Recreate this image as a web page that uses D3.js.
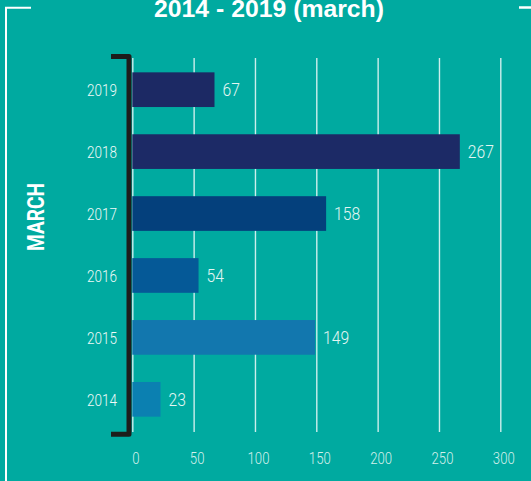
<!DOCTYPE html>
<html>
<head>
<meta charset="utf-8">
<script src="https://cdn.jsdelivr.net/npm/d3@7"></script>
<style>
  html, body { margin: 0; padding: 0; background: #00aaa0; }
  svg { display: block; }
</style>
</head>
<body>
<div id="chart"></div>
<script>
const years = ['2019', '2018', '2017', '2016', '2015', '2014'];
const counts = [67, 267, 158, 54, 149, 23];
const xTicks = [0, 50, 100, 150, 200, 250, 300];
const title = '2014 - 2019 (march)';
const axisTitle = 'MARCH';

const barColors = ['#1c2964', '#1c2a66', '#04407c', '#055997', '#1277ae', '#0b80b1'];

const W = 531;
const H = 481;
const labelFont = "'Roboto', sans-serif";

const data = years.map((y, i) => ({ year: y, value: counts[i], color: barColors[i] }));

// squeeze roboto digits a bit, the original uses a narrow face
function narrowText(sel, perChar) {
  sel.attr('textLength', function () { return this.textContent.length * perChar; })
    .attr('lengthAdjust', 'spacingAndGlyphs');
}

const svg = d3.select('#chart')
  .append('svg')
  .attr('width', W)
  .attr('height', H);

svg.append('rect')
  .attr('width', W)
  .attr('height', H)
  .attr('fill', '#00aaa0');

// white frame corners
svg.append('path')
  .attr('d', 'M31,7.7H6V481')
  .attr('fill', 'none')
  .attr('stroke', '#fff')
  .attr('stroke-width', 2);

svg.append('path')
  .attr('d', 'M519,7.5H531')
  .attr('fill', 'none')
  .attr('stroke', '#fff')
  .attr('stroke-width', 2.5);

svg.append('text')
  .attr('x', 269)
  .attr('y', 17)
  .attr('text-anchor', 'middle')
  .attr('fill', '#fff')
  .attr('textLength', 230)
  .attr('lengthAdjust', 'spacingAndGlyphs')
  .style('font-family', "'Liberation Sans', Arial, sans-serif")
  .style('font-weight', 'bold')
  .style('font-size', '23px')
  .text(title);

const x = d3.scaleLinear()
  .domain([0, 300])
  .range([132.3, 500.3]);

const y = d3.scaleBand()
  .domain(years)
  .range([55, 434])
  .paddingInner(0.44)
  .paddingOuter(0.28);

// grid + x axis
const xAxis = svg.append('g')
  .attr('transform', 'translate(0,432)')
  .call(d3.axisBottom(x).tickValues(xTicks).tickSize(-374).tickFormat(d3.format('d')));

xAxis.select('.domain').remove();
xAxis.selectAll('.tick line')
  .attr('stroke', '#fff')
  .attr('stroke-opacity', 0.8)
  .attr('stroke-width', 1.4);
xAxis.selectAll('.tick text')
  .attr('y', 32)
  .attr('dy', 0)
  .attr('dx', 3)
  .attr('fill', '#d4f0ec')
  .style('font-family', labelFont)
  .style('font-weight', 300)
  .style('font-size', '16px')
  .call(narrowText, 7.3);

// bars
svg.selectAll('rect.bar')
  .data(data)
  .enter().append('rect')
  .attr('class', 'bar')
  .attr('x', x(0))
  .attr('y', d => y(d.year))
  .attr('width', d => x(d.value) - x(0))
  .attr('height', y.bandwidth())
  .attr('fill', d => d.color);

svg.selectAll('text.val')
  .data(data)
  .enter().append('text')
  .attr('class', 'val')
  .attr('x', d => x(d.value) + 8)
  .attr('y', d => y(d.year) + y.bandwidth() / 2)
  .attr('dy', '0.36em')
  .attr('fill', '#e4f6f3')
  .style('font-family', labelFont)
  .style('font-weight', 300)
  .style('font-size', '18.5px')
  .text(d => d.value)
  .call(narrowText, 8.7);

// y axis labels
const yAxis = svg.append('g')
  .attr('transform', 'translate(129,0)')
  .call(d3.axisLeft(y).tickSize(0).tickPadding(12));

yAxis.select('.domain').remove();
yAxis.selectAll('.tick text')
  .attr('dy', '0.4em')
  .attr('fill', '#f0faf8')
  .style('font-family', labelFont)
  .style('font-weight', 300)
  .style('font-size', '16px')
  .call(narrowText, 7.5);

// black bracket axis
svg.append('path')
  .attr('d', 'M111,56.5H129V434.2H111')
  .attr('fill', 'none')
  .attr('stroke', '#1d1d1b')
  .attr('stroke-width', 5)
  .attr('stroke-linejoin', 'round');

svg.append('text')
  .attr('transform', 'translate(44,217) rotate(-90)')
  .attr('text-anchor', 'middle')
  .attr('fill', '#fff')
  .attr('textLength', 68)
  .attr('lengthAdjust', 'spacingAndGlyphs')
  .style('font-family', labelFont)
  .style('font-weight', 'bold')
  .style('font-size', '24px')
  .text(axisTitle);
</script>
</body>
</html>
